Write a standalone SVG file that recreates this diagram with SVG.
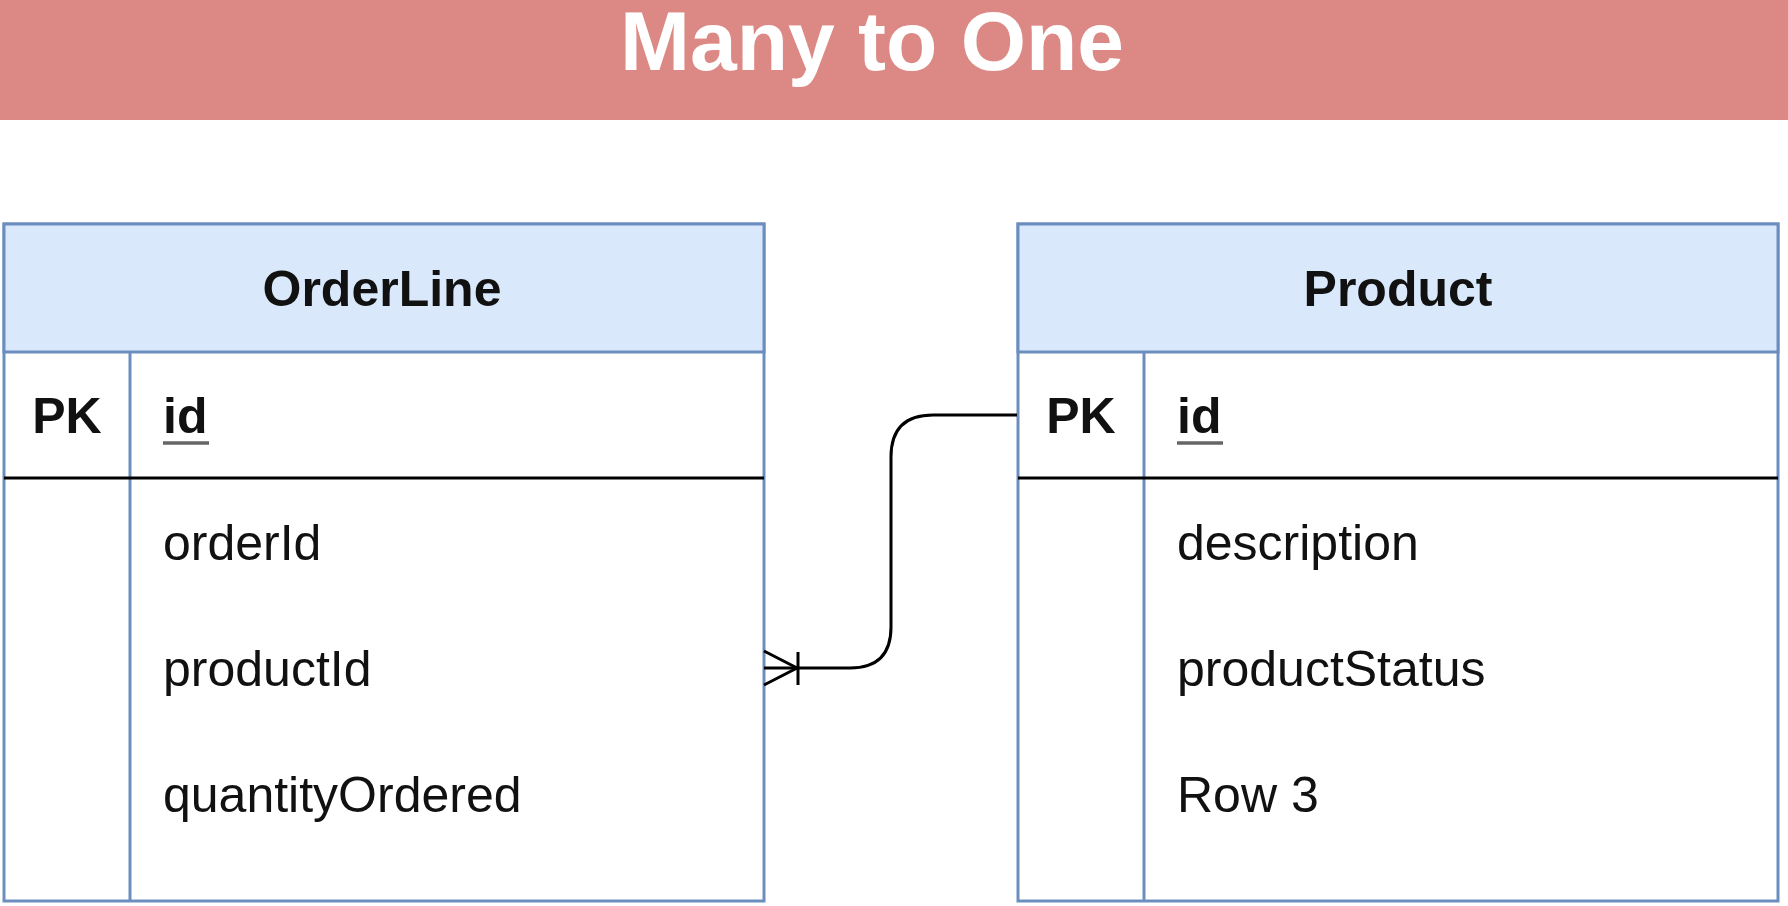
<svg xmlns="http://www.w3.org/2000/svg" width="1788" height="906" viewBox="0 0 1788 906">
<style>
.frame{fill:#ffffff;stroke:#6c8ebf;stroke-width:3}
.head{fill:#dae8fc;stroke:#6c8ebf;stroke-width:3}
.div{stroke:#6c8ebf;stroke-width:3}
.sep{stroke:#000;stroke-width:3}
.t{font-family:"Liberation Sans",Arial,sans-serif;font-size:50px;fill:#111}
.b{font-weight:bold}
.ul{stroke:#666;stroke-width:3.5}
.conn{fill:none;stroke:#000;stroke-width:3}
</style>
<g id="banner">
<rect x="0" y="0" width="1788" height="120" fill="#dc8985"/>
<text x="872" y="70" text-anchor="middle" font-family="Liberation Sans,Arial,sans-serif" font-weight="bold" font-size="84" fill="#ffffff">Many to One</text>
</g>
<g id="orderline">
<rect class="frame" x="4" y="224" width="760" height="677"/>
<rect class="head" x="4" y="224" width="760" height="128"/>
<line class="div" x1="130" y1="352" x2="130" y2="901"/>
<line class="sep" x1="4" y1="478" x2="764" y2="478"/>
<text class="t b" x="382" y="306" text-anchor="middle">OrderLine</text>
<text class="t b" x="67" y="433" text-anchor="middle">PK</text>
<text class="t b" x="163" y="433">id</text>
<line class="ul" x1="163" y1="443" x2="209" y2="443"/>
<text class="t" x="163" y="560">orderId</text>
<text class="t" x="163" y="686">productId</text>
<text class="t" x="163" y="812">quantityOrdered</text>
</g>
<g id="product">
<rect class="frame" x="1018" y="224" width="760" height="677"/>
<rect class="head" x="1018" y="224" width="760" height="128"/>
<line class="div" x1="1144" y1="352" x2="1144" y2="901"/>
<line class="sep" x1="1018" y1="478" x2="1778" y2="478"/>
<text class="t b" x="1398" y="306" text-anchor="middle">Product</text>
<text class="t b" x="1081" y="433" text-anchor="middle">PK</text>
<text class="t b" x="1177" y="433">id</text>
<line class="ul" x1="1177" y1="443" x2="1223" y2="443"/>
<text class="t" x="1177" y="560">description</text>
<text class="t" x="1177" y="686">productStatus</text>
<text class="t" x="1177" y="812">Row 3</text>
</g>
<g id="connectors">
<path class="conn" d="M1017,415 H933 Q891,415 891,457 V627 Q891,668 850,668 H764"/>
<path class="conn" d="M764,651 L797,668 L764,685 M798,652 V685"/>
</g>
</svg>
